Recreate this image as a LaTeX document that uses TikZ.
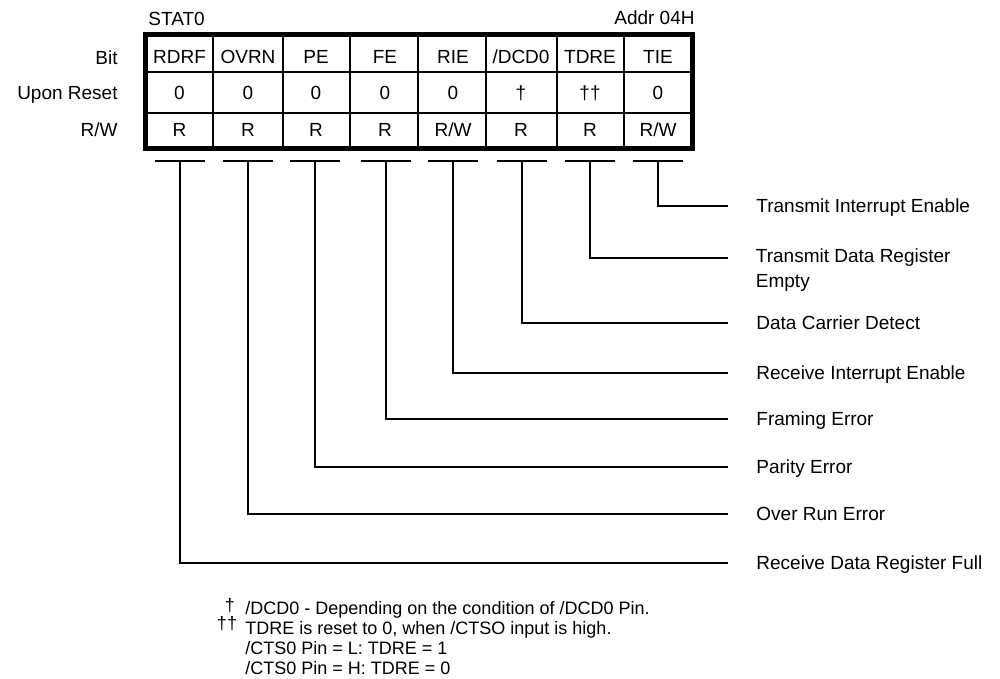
\documentclass[tikz,border=0pt]{standalone}
\usepackage{fontspec}
\setmainfont{Liberation Sans}
\usetikzlibrary{positioning,calc}

\tikzset{
  regframe/.style={line width=2.5pt},
  regrule/.style={line width=1pt},
  bitbar/.style={line width=1.3pt},
  lead/.style={line width=1pt},
  cell/.style={inner sep=0pt,text height=6.8pt,text depth=0pt,font=\fontsize{9.5}{11}\selectfont},
  rowlbl/.style={cell,anchor=east},
  desc/.style={cell,anchor=west},
  fnote/.style={inner sep=0pt,font=\fontsize{9}{10}\selectfont},
  fmark/.style={inner sep=0pt,text height=5pt,text depth=0pt,font=\fontsize{9}{9}\selectfont},
}

\begin{document}
\begin{tikzpicture}[x=0.5pt,y=-0.5pt]
\useasboundingbox (0,0) rectangle (1000,679);
% register layout
\draw[regrule] (145.5,72)--(692.5,72) (145.5,113)--(692.5,113);
\draw[regrule] (213,34.5)--(213,148.5) (283,34.5)--(283,148.5) (350,34.5)--(350,148.5)
 (418,34.5)--(418,148.5) (486,34.5)--(486,148.5) (557,34.5)--(557,148.5) (624,34.5)--(624,148.5);
\draw[regframe] (145.5,34.5) rectangle (692.5,148.5);
\node[cell,anchor=west] (stat) at (148,19){STAT0};
\node[cell,anchor=east] (addr) at (695,18){Addr 04H};
\node[rowlbl] (bitrow) at (118,58){Bit};
\node[rowlbl] (resetrow) at (118,93){Upon Reset};
\node[rowlbl] (rwrow) at (118,130){R/W};
% bit names
\node[cell] (rdrf) at (179.5,57){RDRF};
\node[cell] (ovrn) at (248,57){OVRN};
\node[cell] (pe) at (316,57){PE};
\node[cell] (fe) at (385,57){FE};
\node[cell] (rie) at (453,57){RIE};
\node[cell] (dcd) at (521,57){/DCD0};
\node[cell] (tdre) at (590,57){TDRE};
\node[cell] (tie) at (658,57){TIE};
% reset values
\node[cell] (rdrf0) at (179.5,93){0};
\node[cell] (ovrn0) at (248,93){0};
\node[cell] (pe0) at (316,93){0};
\node[cell] (fe0) at (385,93){0};
\node[cell] (rie0) at (453,93){0};
\node[cell] (dcd0) at (521,93){†};
\node[cell] (tdre0) at (590,93){††};
\node[cell] (tie0) at (658,93){0};
% access
\node[cell] (rdrfrw) at (179.5,130){R};
\node[cell] (ovrnrw) at (248,130){R};
\node[cell] (perw) at (316,130){R};
\node[cell] (ferw) at (385,130){R};
\node[cell] (rierw) at (453,130){R/W};
\node[cell] (dcdrw) at (521,130){R};
\node[cell] (tdrerw) at (590,130){R};
\node[cell] (tierw) at (658,130){R/W};
% bit leads
\coordinate (rdrft) at (179.5,161);
\coordinate (ovrnt) at (248,161);
\coordinate (pet) at (315,161);
\coordinate (fet) at (386,161);
\coordinate (riet) at (453,161);
\coordinate (dcdt) at (522,161);
\coordinate (tdret) at (590,161);
\coordinate (tiet) at (658,161);
\draw[bitbar] ([xshift=-12.5pt]rdrft)--([xshift=12.5pt]rdrft) ([xshift=-12.5pt]ovrnt)--([xshift=12.5pt]ovrnt)
 ([xshift=-12.5pt]pet)--([xshift=12.5pt]pet) ([xshift=-12.5pt]fet)--([xshift=12.5pt]fet)
 ([xshift=-12.5pt]riet)--([xshift=12.5pt]riet) ([xshift=-12.5pt]dcdt)--([xshift=12.5pt]dcdt)
 ([xshift=-12.5pt]tdret)--([xshift=12.5pt]tdret) ([xshift=-12.5pt]tiet)--([xshift=12.5pt]tiet);
\coordinate (tiee) at (728,206);
\coordinate (tdree) at (728,258);
\coordinate (dcde) at (728,323);
\coordinate (riee) at (728,373);
\coordinate (fee) at (728,419);
\coordinate (pee) at (728,467);
\coordinate (ovrne) at (728,514);
\coordinate (rdrfe) at (728,563);
\draw[lead] (tiet) |- (tiee);
\draw[lead] (tdret) |- (tdree);
\draw[lead] (dcdt) |- (dcde);
\draw[lead] (riet) |- (riee);
\draw[lead] (fet) |- (fee);
\draw[lead] (pet) |- (pee);
\draw[lead] (ovrnt) |- (ovrne);
\draw[lead] (rdrft) |- (rdrfe);
\node[desc,right=14pt of tiee] (tiel){Transmit Interrupt Enable};
\node[inner sep=0pt,anchor=north west,align=left,font=\fontsize{9.5}{12.5}\selectfont] (tdrel) at (755.5,248.5){Transmit Data Register\\Empty};
\node[desc,right=14pt of dcde] (dcdl){Data Carrier Detect};
\node[desc,right=14pt of riee] (riel){Receive Interrupt Enable};
\node[desc,right=14pt of fee] (fel){Framing Error};
\node[desc,right=14pt of pee] (pel){Parity Error};
\node[desc,right=14pt of ovrne] (ovrnl){Over Run Error};
\node[desc,right=14pt of rdrfe] (rdrfl){Receive Data Register Full};
% footnotes
\node[fmark] (dagone) at (230,606){†};
\node[fmark] (dagtwo) at (227,624.5){††};
\node[fnote,anchor=north west,align=left] (notes) at (245,601.5){/DCD0 - Depending on the condition of /DCD0 Pin.\\
TDRE is reset to 0, when /CTSO input is high.\\/CTS0 Pin = L: TDRE = 1\\/CTS0 Pin = H: TDRE = 0};
\end{tikzpicture}
\end{document}
